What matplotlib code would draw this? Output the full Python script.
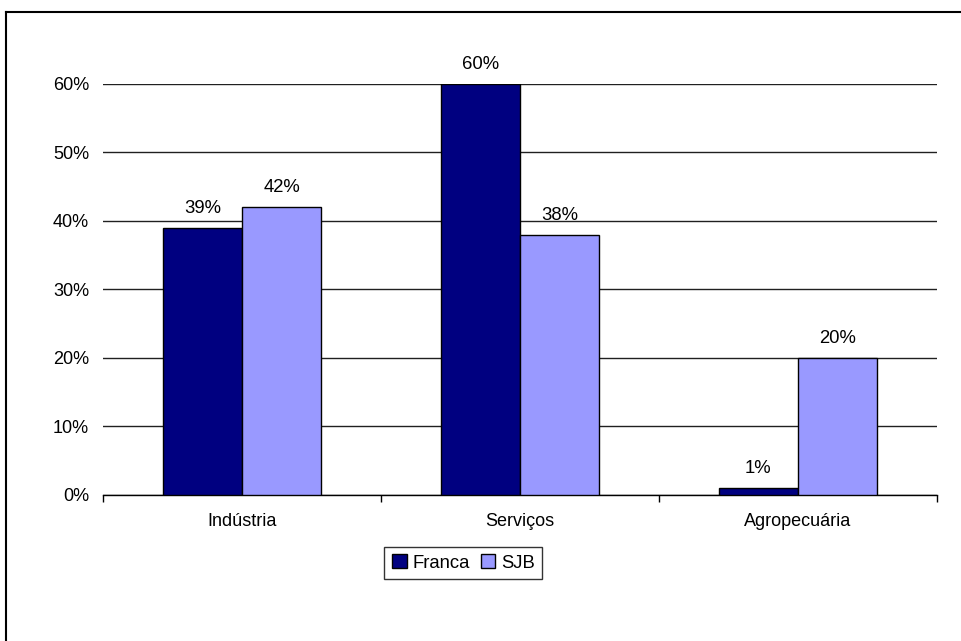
import numpy as np
import matplotlib.pyplot as plt
from matplotlib.lines import Line2D

plt.rcParams['font.family'] = ['Liberation Sans', 'DejaVu Sans']

# Data
categories = ['Indústria', 'Serviços', 'Agropecuária']
franca = [0.39, 0.60, 0.01]
sjb = [0.42, 0.38, 0.20]
yticks = [0.0, 0.1, 0.2, 0.3, 0.4, 0.5, 0.6]

fig = plt.figure(figsize=(9.61, 6.41), dpi=100)
ax = fig.add_axes([0.1072, 0.2278, 0.8678, 0.6412])

x = np.arange(len(categories))
w = 0.285
b1 = ax.bar(x - w / 2, franca, w, color='#000080', edgecolor='black', linewidth=1, label='Franca', zorder=3)
b2 = ax.bar(x + w / 2, sjb, w, color='#9999FF', edgecolor='black', linewidth=1, label='SJB', zorder=3)

for bars, vals in ((b1, franca), (b2, sjb)):
    for r, v in zip(bars, vals):
        ax.annotate(f'{v:.0%}', (r.get_x() + r.get_width() / 2, v), xytext=(0, 8),
                    textcoords='offset points', ha='center', va='bottom', fontsize=13.3)

ax.set_xlim(-0.5, len(categories) - 0.5)
ax.set_ylim(0, 0.6)
ax.set_yticks(yticks)
ax.set_yticklabels([f'{t:.0%}' for t in yticks])
ax.yaxis.grid(True, color='#202020', linewidth=1, zorder=0)
ax.set_axisbelow(True)

ax.set_xticks(x)
ax.set_xticklabels(categories)
ax.set_xticks(np.arange(len(categories) + 1) - 0.5, minor=True)
ax.tick_params(axis='x', which='major', length=0, pad=13, labelsize=13)
ax.tick_params(axis='x', which='minor', length=5, width=1, direction='out')
ax.tick_params(axis='y', length=0, pad=10, labelsize=13)

for s in ['top', 'right', 'left']:
    ax.spines[s].set_visible(False)
ax.spines['bottom'].set_linewidth(1)

ax.legend(loc='upper center', bbox_to_anchor=(0.482, 0.147), bbox_transform=fig.transFigure,
          ncol=2, fontsize=13.3, frameon=True, fancybox=False, edgecolor='black',
          handlelength=0.8, handleheight=0.8, handletextpad=0.3, columnspacing=0.6,
          borderpad=0.4, borderaxespad=0)

# outer chart frame (only left and top edges visible)
fig.add_artist(Line2D([0.0062, 0.0062], [0.0, 0.981], color='black', linewidth=1.5))
fig.add_artist(Line2D([0.0062, 1.0], [0.981, 0.981], color='black', linewidth=1.5))

fig.savefig('out.png', dpi=100)
